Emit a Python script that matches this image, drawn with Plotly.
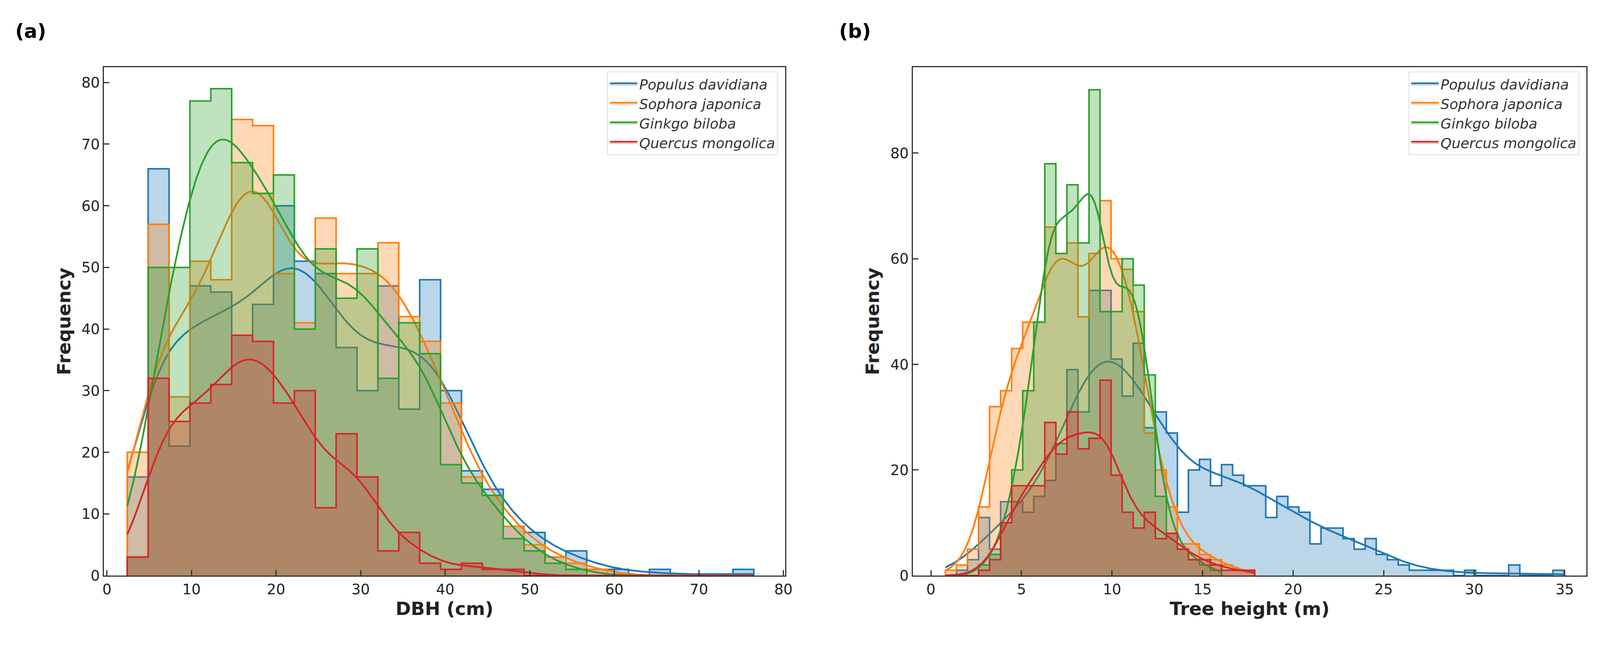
import numpy as np
import plotly.graph_objects as go

species = ["Populus davidiana", "Sophora japonica", "Ginkgo biloba", "Quercus mongolica"]
colors = ["#1f77b4", "#ff7f0e", "#2ca02c", "#d62728"]
fills = ["rgba(31,119,180,0.3)", "rgba(255,127,14,0.3)", "rgba(44,160,44,0.3)", "rgba(214,39,40,0.3)"]

# Panel (a): DBH bins
dbh_start, dbh_width = 2.4, 2.47
dbh_populus = [16, 66, 21, 47, 46, 39, 44, 60, 51, 49, 37, 30, 47, 27, 48, 30, 17, 14, 8, 7, 3, 4, 1, 1, 0, 1, 0, 0, 0, 1]
dbh_sophora = [20, 57, 29, 51, 48, 74, 73, 49, 41, 58, 49, 49, 54, 42, 38, 28, 16, 13, 8, 5, 3, 2, 1, 0, 0, 0, 0, 0, 0, 0]
dbh_ginkgo = [3, 50, 50, 77, 79, 67, 62, 65, 40, 53, 45, 53, 32, 41, 36, 18, 15, 13, 6, 4, 2, 1, 0, 0, 0, 0, 0, 0, 0, 0]
dbh_quercus = [3, 32, 25, 28, 31, 39, 38, 28, 30, 11, 23, 16, 4, 7, 2, 1, 2, 1, 1, 0, 0, 0, 0, 0, 0, 0, 0, 0, 0, 0]

# Panel (b): tree height bins
h_start, h_width = 0.8, 0.61
h_populus = [0, 1, 3, 11, 5, 14, 14, 12, 15, 18, 25, 39, 31, 54, 54, 41, 34, 44, 28, 31, 27, 12, 20, 22, 17, 21, 19, 17, 17, 11,
             15, 13, 12, 6, 9, 9, 7, 5, 7, 4, 3, 2, 1, 1, 1, 1, 0, 1, 0, 0, 0, 2, 0, 0, 0, 1]
h_sophora = [1, 2, 5, 13, 32, 35, 43, 48, 48, 66, 61, 63, 49, 61, 71, 60, 58, 50, 27, 20, 13, 6, 6, 4, 3, 2, 1, 1]
h_ginkgo = [0, 0, 0, 2, 4, 10, 20, 35, 48, 78, 61, 74, 63, 92, 50, 50, 60, 55, 38, 15, 8, 5, 3, 2, 1]
h_quercus = [0, 0, 0, 1, 3, 10, 17, 17, 17, 29, 23, 31, 24, 26, 37, 19, 12, 9, 12, 7, 8, 5, 3, 3, 2, 1, 1, 1]

fig = go.Figure()


def add_hist(counts, start, width, ci, xa, ya, legend):
    n = len(counts)
    edges = [start + width * i for i in range(n + 1)]
    xs = [edges[0]] + edges
    ys = [0] + list(counts) + [0]
    fig.add_trace(go.Scatter(x=xs, y=ys, mode="lines", line=dict(shape="hv", color=colors[ci], width=4),
                             fill="tozeroy", fillcolor=fills[ci], name="<i>" + species[ci] + "</i>",
                             xaxis=xa, yaxis=ya, legend=legend, showlegend=True))
    # KDE derived from the binned counts
    c = np.array(counts, float)
    centers = np.array([start + width * (i + 0.5) for i in range(n)])
    N = c.sum()
    mean = (c * centers).sum() / N
    sd = np.sqrt((c * (centers - mean) ** 2).sum() / N)
    bw = sd * N ** (-0.2) * 1.06
    gx = np.linspace(start, edges[-1], 400)
    dens = (c[None, :] * np.exp(-0.5 * ((gx[:, None] - centers[None, :]) / bw) ** 2)).sum(1) / (N * bw * np.sqrt(2 * np.pi))
    fig.add_trace(go.Scatter(x=gx, y=dens * N * width, mode="lines", line=dict(color=colors[ci], width=4.5),
                             xaxis=xa, yaxis=ya, showlegend=False, hoverinfo="skip"))


for i, arr in enumerate([dbh_populus, dbh_sophora, dbh_ginkgo, dbh_quercus]):
    add_hist(arr, dbh_start, dbh_width, i, "x", "y", "legend")
for i, arr in enumerate([h_populus, h_sophora, h_ginkgo, h_quercus]):
    add_hist(arr, h_start, h_width, i, "x2", "y2", "legend2")

ax = dict(showline=True, linecolor="#333", linewidth=3, mirror=True, ticks="inside", ticklen=14, tickwidth=3,
          tickcolor="#333", showgrid=False, zeroline=False, tickfont=dict(size=37, color="#222"))
fig.update_layout(
    width=4134, height=1659, margin=dict(l=0, r=0, t=0, b=0),
    plot_bgcolor="white", paper_bgcolor="white",
    font=dict(family="DejaVu Sans", color="#222"),
    xaxis=dict(ax, domain=[0.0618, 0.486], range=[-0.36, 80.2], dtick=10,
               title=dict(text="<b>DBH (cm)</b>", font=dict(size=47), standoff=10)),
    yaxis=dict(ax, domain=[0.105, 0.900], range=[0, 82.5], dtick=10,
               title=dict(text="<b>Frequency</b>", font=dict(size=47), standoff=14)),
    xaxis2=dict(ax, domain=[0.5655, 0.985], range=[-1.0, 36.2], dtick=5, anchor="y2",
                title=dict(text="<b>Tree height (m)</b>", font=dict(size=47), standoff=10)),
    yaxis2=dict(ax, domain=[0.105, 0.900], range=[0, 96.3], dtick=20, anchor="x2",
                title=dict(text="<b>Frequency</b>", font=dict(size=47), standoff=14)),
    legend=dict(x=0.4815, y=0.893, xanchor="right", yanchor="top", bgcolor="rgba(255,255,255,0.8)",
                bordercolor="#ddd", borderwidth=2, font=dict(size=36, color="#333"), itemwidth=70),
    legend2=dict(x=0.9805, y=0.893, xanchor="right", yanchor="top", bgcolor="rgba(255,255,255,0.8)",
                 bordercolor="#ddd", borderwidth=2, font=dict(size=36, color="#333"), itemwidth=70),
    annotations=[
        dict(text="<b>(a)</b>", x=0.006, y=0.975, xref="paper", yref="paper", showarrow=False,
             xanchor="left", yanchor="top", font=dict(size=50, color="black")),
        dict(text="<b>(b)</b>", x=0.519, y=0.975, xref="paper", yref="paper", showarrow=False,
             xanchor="left", yanchor="top", font=dict(size=50, color="black")),
    ],
)

fig.write_html("out.html")
